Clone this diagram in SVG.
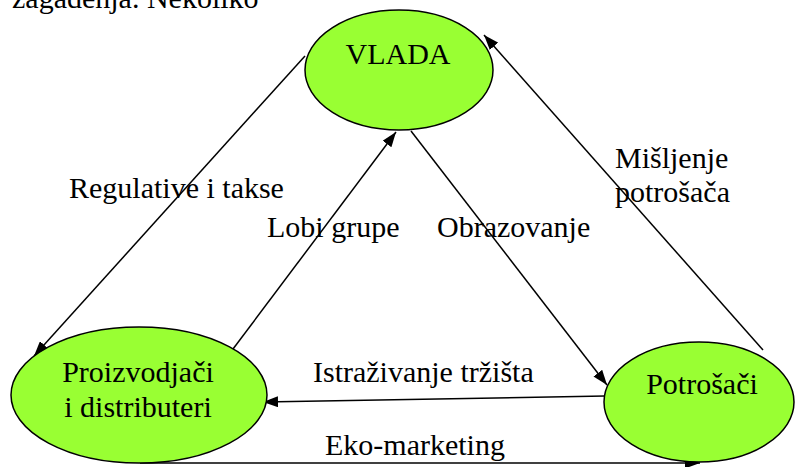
<svg xmlns="http://www.w3.org/2000/svg" width="795" height="467" viewBox="0 0 795 467">
<style>
text{font-family:"Liberation Serif","Times New Roman",serif;font-size:30px;fill:#000}
.node ellipse{fill:#99ff33;stroke:#000;stroke-width:1.5}
.conn line{stroke:#000;stroke-width:1.5;marker-end:url(#ah)}
</style>
<defs>
<marker id="ah" viewBox="0 0 15 11" refX="15" refY="5.5" markerWidth="15" markerHeight="11" markerUnits="userSpaceOnUse" orient="auto">
<path d="M0,0 L15,5.5 L0,11 z" fill="#000"/>
</marker>
</defs>
<rect width="795" height="467" fill="#fff"/>
<text x="12" y="8">zagađenja. Nekoliko</text>
<g id="connectors" class="conn">
<line x1="305" y1="56" x2="34" y2="356"/>
<line x1="233" y1="349" x2="396" y2="132"/>
<line x1="411" y1="131" x2="607" y2="385"/>
<line x1="763" y1="350" x2="484" y2="35"/>
<line x1="605" y1="396" x2="263" y2="402"/>
<line x1="140" y1="463" x2="700" y2="463"/>
</g>
<g id="vlada" class="node">
<ellipse cx="399" cy="70" rx="94" ry="60"/>
<text x="398" y="64" text-anchor="middle">VLADA</text>
</g>
<g id="proizvodjaci" class="node">
<ellipse cx="139" cy="395" rx="128" ry="68"/>
<text x="138" y="382" text-anchor="middle">Proizvodjači</text>
<text x="138" y="417" text-anchor="middle">i distributeri</text>
</g>
<g id="potrosaci" class="node">
<ellipse cx="699" cy="402" rx="95" ry="60"/>
<text x="702" y="394" text-anchor="middle">Potrošači</text>
</g>
<g id="labels">
<text x="69" y="198">Regulative i takse</text>
<text x="267" y="237">Lobi grupe</text>
<text x="437" y="237">Obrazovanje</text>
<text x="615" y="168">Mišljenje</text>
<text x="615" y="202">potrošača</text>
<text x="313" y="382">Istraživanje tržišta</text>
<text x="325" y="455">Eko-marketing</text>
</g>
</svg>
